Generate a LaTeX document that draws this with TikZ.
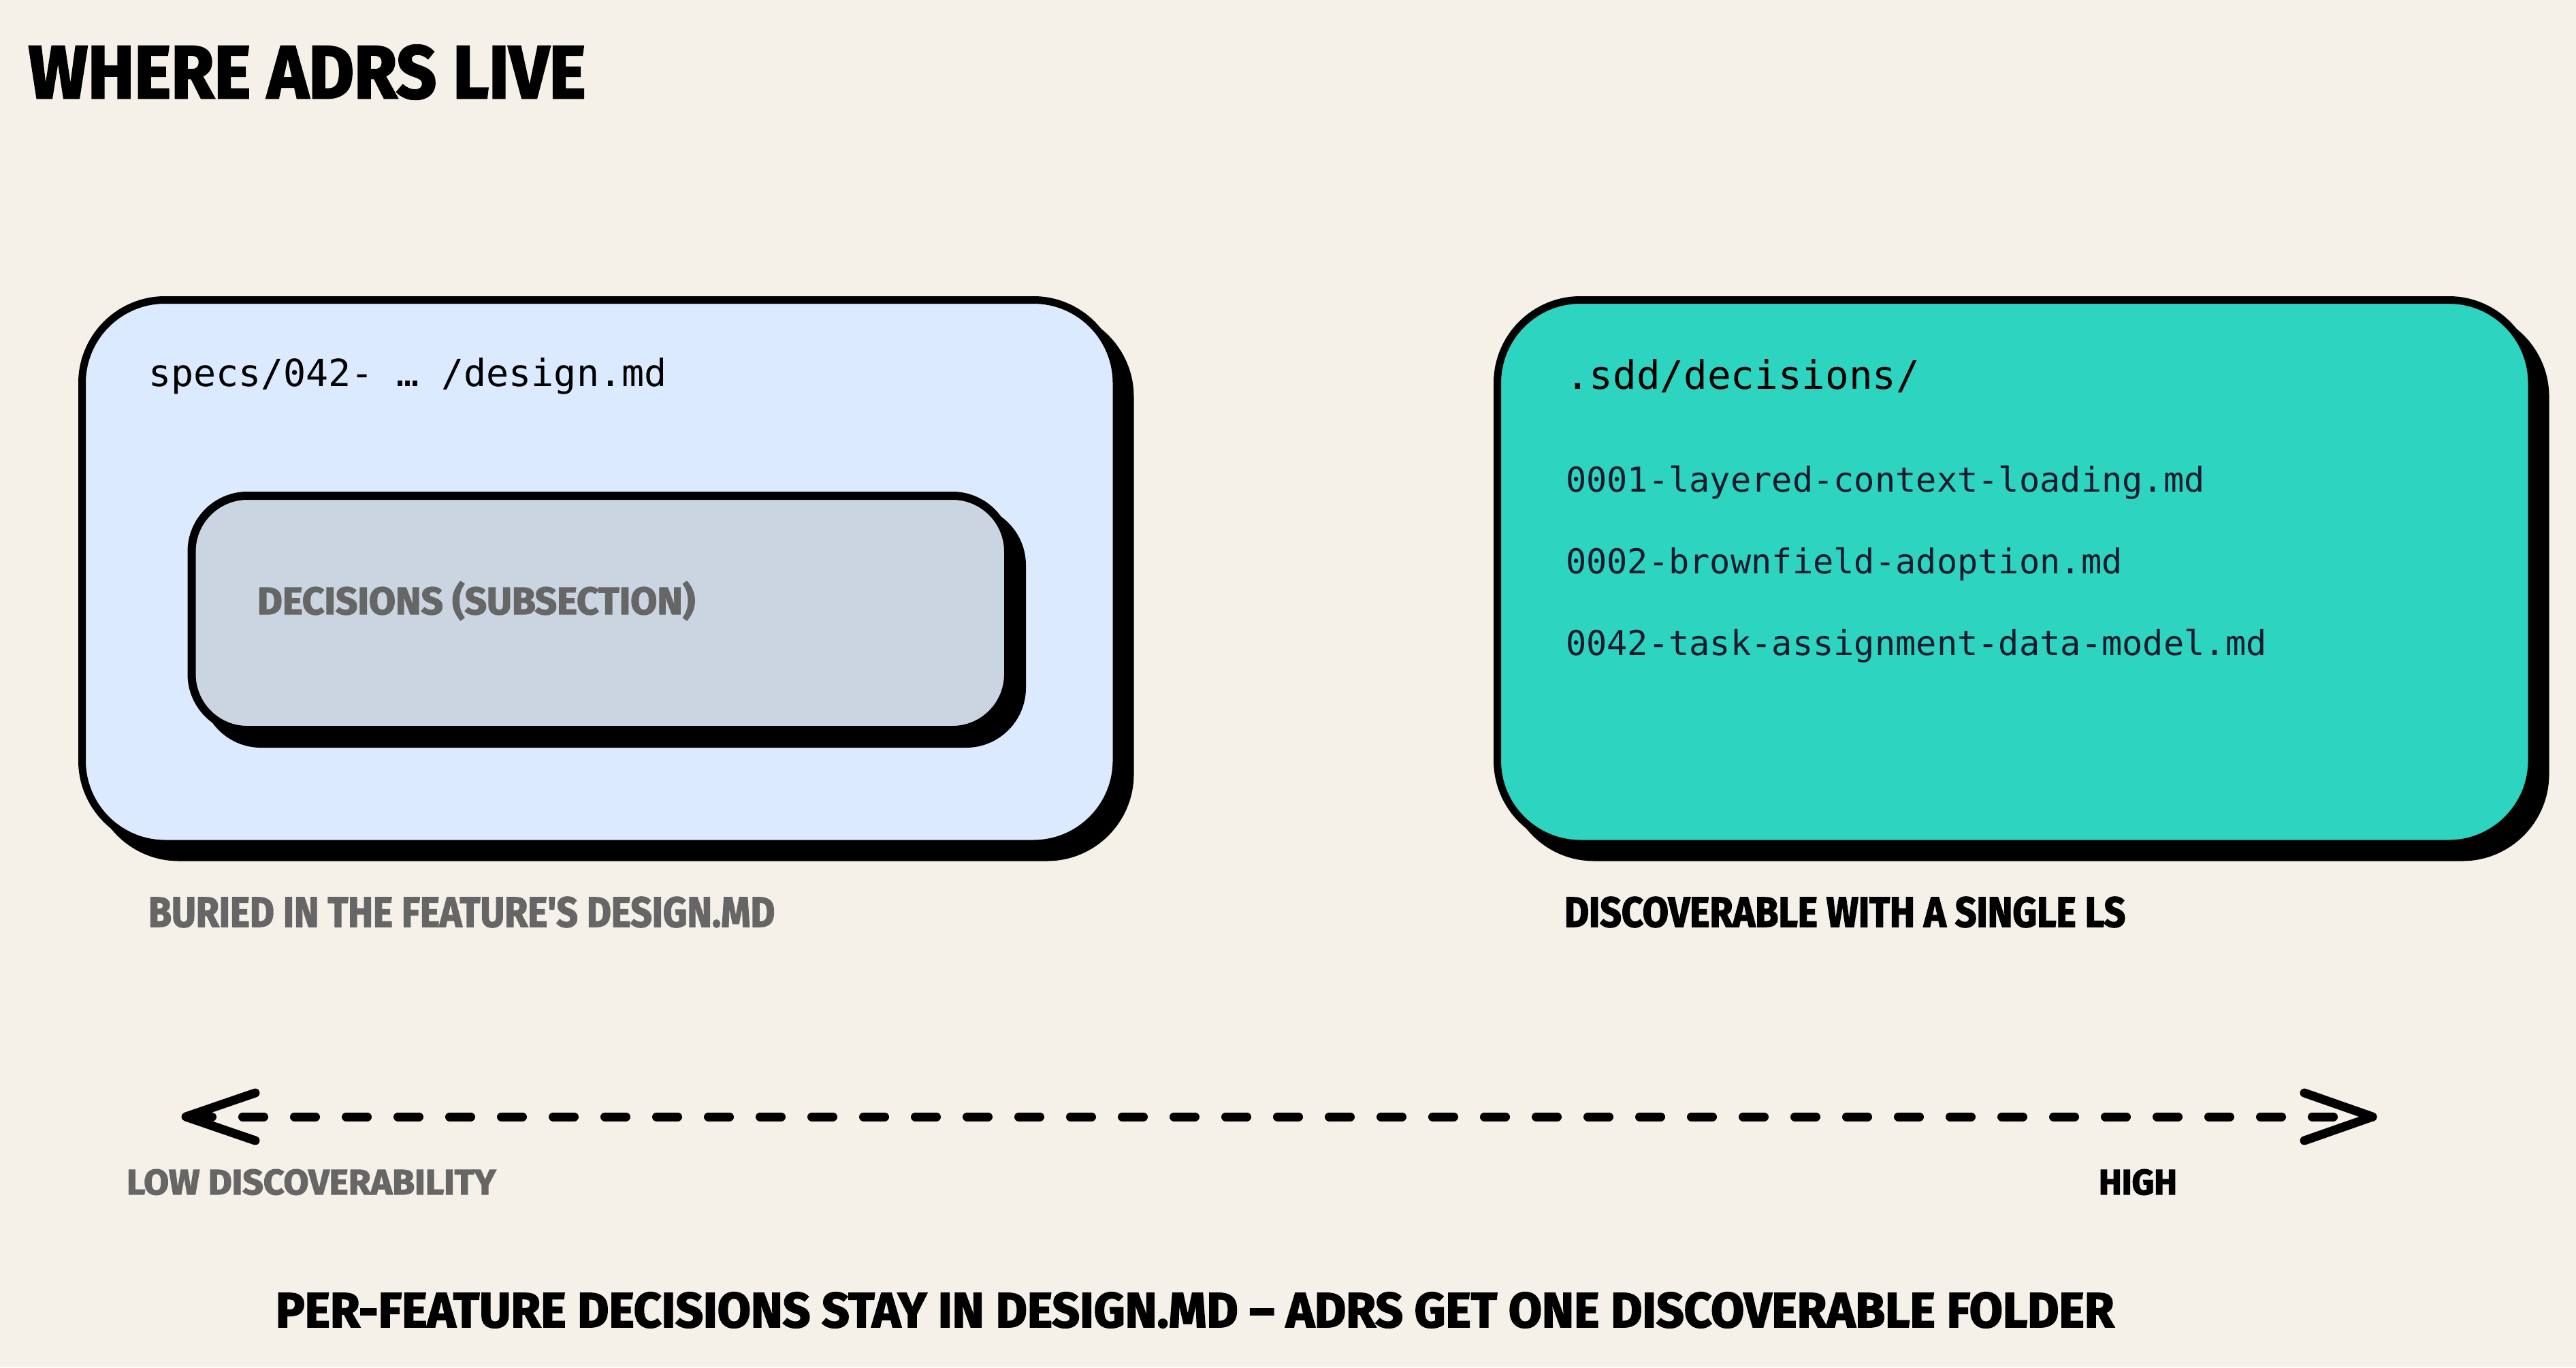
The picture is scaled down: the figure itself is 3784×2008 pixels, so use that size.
\documentclass[tikz,border=0pt]{standalone}
\usepackage{fontspec}
\usepackage{graphicx}
\newfontfamily\dispfont{Fira Sans}[BoldFeatures={FakeBold=2.5}]
\newfontfamily\monofont{DejaVu Sans Mono}
\definecolor{bg}{HTML}{F5F0E8}
\definecolor{leftfill}{HTML}{DBEAFE}
\definecolor{innerfill}{HTML}{CBD5E1}
\definecolor{tealfill}{HTML}{2DD4BF}
\definecolor{graytxt}{HTML}{666666}
\definecolor{navytxt}{HTML}{1C1B2E}
\newcommand\fitcap[3]{\resizebox{#1}{#2}{\dispfont\bfseries\vphantom{E}\smash{#3}}}
\tikzset{
  box/.style={draw=black, line width=11pt, rounded corners=122pt, inner sep=0pt, outer sep=0pt},
  shadowbox/.style={box, fill=black},
  innerdims/.style={line width=12pt, rounded corners=82pt, minimum width=1199.5pt, minimum height=344pt},
  outerdims/.style={minimum width=1519.5pt, minimum height=798.5pt},
  txt/.style={anchor=base west, inner sep=0pt, outer sep=0pt},
  headmono/.style={txt, font=\monofont\fontsize{55}{60}\selectfont},
  filemono/.style={txt, text=navytxt, font=\monofont\fontsize{50.3}{56}\selectfont},
  heavy/.style={line width=13pt, line cap=round, line join=round}
}
\begin{document}
\begin{tikzpicture}[x=1pt,y=-1pt]
\fill[bg] (0,0) rectangle (3784,2008);
\useasboundingbox (0,0) rectangle (3784,2008);

% title
\node[txt] (title) at (42,144) {\fitcap{818pt}{76pt}{WHERE ADRS LIVE}};

% left box
\node[shadowbox, outerdims] (leftshadow) at (900.25,859.75) {};
\node[box, outerdims, fill=leftfill] (leftbox) at (880.25,839.75) {};
\node[headmono] (lefthead) at (218,567) {specs/042- … /design.md};
\node[shadowbox, innerdims] (innershadow) at (901.25,920) {};
\node[box, innerdims, fill=innerfill] (innerbox) at (881.25,900) {};
\node[txt, text=graytxt] (innerlabel) at (378,902) {\fitcap{643pt}{39pt}{DECISIONS (SUBSECTION)}};

% right box
\node[shadowbox, outerdims] (rightshadow) at (2979.25,859.75) {};
\node[box, outerdims, fill=tealfill] (rightbox) at (2959.25,839.75) {};
\node[headmono, font=\monofont\fontsize{57.6}{62}\selectfont] (righthead) at (2300,571) {.sdd/decisions/};
\node[filemono] (fileA) at (2300,722) {0001-layered-context-loading.md};
\node[filemono] (fileB) at (2300,842) {0002-brownfield-adoption.md};
\node[filemono] (fileC) at (2300,962) {0042-task-assignment-data-model.md};

% captions
\node[txt, text=graytxt] (leftcap) at (218,1361) {\fitcap{920pt}{43pt}{BURIED IN THE FEATURE\textquotesingle S DESIGN.MD}};
\node[txt] (rightcap) at (2298,1361) {\fitcap{824pt}{43pt}{DISCOVERABLE WITH A SINGLE LS}};

% axis
\coordinate (lo) at (273,1640);
\coordinate (hi) at (3485,1640);
\draw[heavy, dash pattern=on 31pt off 45pt, dash phase=68.5pt] (lo) -- (hi);
\draw[heavy] ([shift={(102,-35)}]lo) -- (lo) -- ([shift={(102,35)}]lo);
\draw[heavy] ([shift={(-100,-35)}]hi) -- (hi) -- ([shift={(-100,35)}]hi);
\node[txt, text=graytxt] (lowlabel) at (186,1754) {\fitcap{542pt}{36pt}{LOW DISCOVERABILITY}};
\node[txt] (highlabel) at (3083,1754) {\fitcap{115pt}{36pt}{HIGH}};

% bottom line
\node[txt] (summary) at (405,1949) {\fitcap{2700pt}{50pt}{PER-FEATURE DECISIONS STAY IN DESIGN.MD – ADRS GET ONE DISCOVERABLE FOLDER}};
\end{tikzpicture}
\end{document}
